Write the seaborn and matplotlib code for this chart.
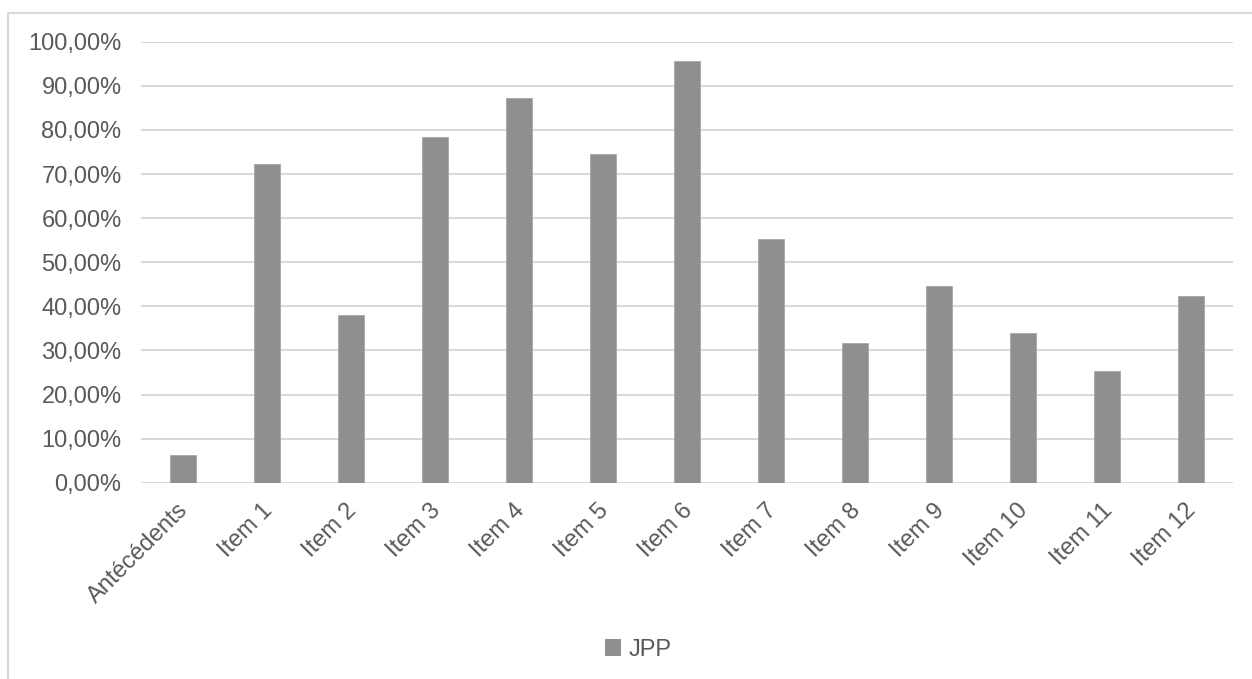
import matplotlib
matplotlib.use("Agg")
import matplotlib.pyplot as plt
import matplotlib.transforms as mtransforms
import seaborn as sns
import pandas as pd
from matplotlib.patches import Rectangle
from matplotlib.ticker import FuncFormatter, MultipleLocator

categories = ["Antécédents", "Item 1", "Item 2", "Item 3", "Item 4", "Item 5", "Item 6",
              "Item 7", "Item 8", "Item 9", "Item 10", "Item 11", "Item 12"]
values = [6.2, 72.2, 38.1, 78.5, 87.2, 74.5, 95.6, 55.2, 31.7, 44.5, 33.9, 25.3, 42.4]
series_name = "JPP"

df = pd.DataFrame({"cat": categories, "val": values, "series": series_name})

sns.set_theme(style="white")
plt.rcParams["font.family"] = ["Liberation Sans", "DejaVu Sans"]

fig = plt.figure(figsize=(12.52, 6.79), dpi=100)
ax = fig.add_axes([141 / 1252, 1 - 482.7 / 679, (1233 - 141) / 1252, (482.7 - 41.7) / 679])

bar_color = "#8f8f8f"
sns.barplot(data=df, x="cat", y="val", hue="series", palette=[bar_color],
            width=0.31, ax=ax, legend=False, edgecolor="#a6a6a6", linewidth=0.6)

ax.set_ylim(0, 100)
ax.set_xlim(-0.5, len(categories) - 0.5)
ax.yaxis.set_major_locator(MultipleLocator(10))
ax.yaxis.set_major_formatter(FuncFormatter(lambda v, p: f"{v:.2f}".replace(".", ",") + "%"))
ax.grid(axis="y", color="#d9d9d9", linewidth=1.5)
ax.set_axisbelow(True)
for s in ax.spines.values():
    s.set_visible(False)
ax.set_xlabel("")
ax.set_ylabel("")
ax.tick_params(axis="both", length=0, colors="#595959", labelsize=17)
ax.tick_params(axis="y", pad=14)
ax.tick_params(axis="x", pad=12)
offset = mtransforms.ScaledTranslation(-6 / 100, 0, fig.dpi_scale_trans)
for lbl in ax.get_xticklabels():
    lbl.set_rotation(45)
    lbl.set_ha("right")
    lbl.set_rotation_mode("anchor")
    lbl.set_transform(lbl.get_transform() + offset)

# legend
handle = Rectangle((0, 0), 1, 1, facecolor=bar_color, edgecolor="none")
leg = fig.legend([handle], [series_name], loc="center", bbox_to_anchor=(638 / 1252, 1 - 650 / 679),
                 frameon=False, fontsize=17, handlelength=0.7, handleheight=0.7, handletextpad=0.3,
                 labelcolor="#595959")

# chart border
fig.patches.append(Rectangle((8 / 1252, -0.05), 1.2, 1.05 - 12.7 / 679, transform=fig.transFigure,
                             fill=False, edgecolor="#d9d9d9", linewidth=1.5, figure=fig))

fig.savefig("out.png", dpi=100, facecolor="white")
